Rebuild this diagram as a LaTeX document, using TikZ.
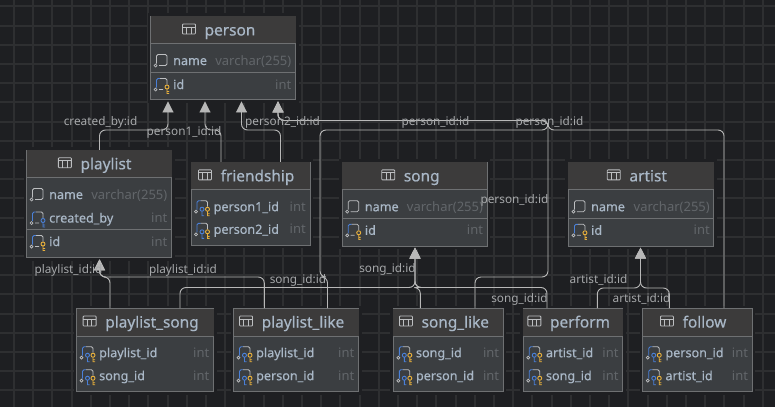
\documentclass[tikz,border=0pt]{standalone}
\usepackage{fontspec}
\setmainfont{Noto Sans}
\newfontfamily\heavyfont[FakeBold=.5]{Noto Sans}
\usetikzlibrary{arrows.meta}
\definecolor{canvascol}{HTML}{1E1F22}
\definecolor{gridcol}{HTML}{2E2F31}
\definecolor{bodycol}{HTML}{3B3E41}
\definecolor{headcol}{HTML}{3C3B3B}
\definecolor{edgecol}{HTML}{6E7072}
\definecolor{linkcol}{HTML}{B8B8B8}
\definecolor{labelcol}{HTML}{A6A8AA}
\definecolor{textcol}{HTML}{A9B7C6}
\definecolor{typecol}{HTML}{62666A}
\definecolor{bluecol}{HTML}{4A80D8}
\definecolor{goldcol}{HTML}{E8B03C}
\definecolor{iconcol}{HTML}{BDBFC1}
\tikzset{
  gridline/.style={gridcol,line width=2pt},
  dbtable/.style={draw=edgecol,fill=bodycol,line width=1pt,minimum height=#1,inner sep=0pt,
    preaction={draw=canvascol,line width=6pt}},
  tablerule/.style={edgecol,line width=1pt},
  tabletitle/.style={inner sep=0pt,text=textcol,text height=14pt,text depth=3pt,font=\heavyfont\fontsize{15.4}{15.4}\selectfont},
  fieldname/.style={inner sep=0pt,anchor=west,text=textcol,text height=12pt,text depth=3pt,font=\heavyfont\fontsize{12.6}{12.6}\selectfont},
  fieldtype/.style={inner sep=0pt,anchor=east,text=typecol,text height=12pt,text depth=3pt,font=\fontsize{13}{13}\selectfont},
  fklink/.style={linkcol,line width=.9pt,rounded corners=6pt,shorten >=1pt,
    -{Triangle[length=11pt,width=11pt,fill=linkcol]}},
  fklabel/.style={inner sep=0pt,text=labelcol,text height=11pt,text depth=3pt,font=\fontsize{11.8}{11.8}\selectfont},
  gridicon/.pic={
    \draw[iconcol,line width=.8pt,rounded corners=.8pt] (0,-5) rectangle (13,5);
    \draw[iconcol,line width=.8pt] (0,-2) -- (13,-2) (4.3,-2) -- (4.3,5) (8.7,-2) -- (8.7,5);
  },
  colicon/.pic={
    \draw[iconcol,line width=.8pt,rounded corners=1.5pt] (2.5,3) -- (2.5,-6) -- (13,-6) -- (13,5) -- (5,5);
    \draw[iconcol,line width=.7pt] (1.5,5) circle (1.5pt);
  },
  pkicon/.pic={
    \draw[bluecol,line width=.9pt,rounded corners=1.5pt] (2.5,3) -- (2.5,-6) -- (6,-6);
    \draw[iconcol,line width=.8pt,rounded corners=1.5pt] (6,-6) -- (13,-6) -- (13,0) (9,5) -- (5,5);
    \draw[iconcol,line width=.7pt] (1.5,5) circle (1.5pt);
    \draw[goldcol,line width=.9pt] (13,2.5) circle (2pt) (13,4.5) -- (13,9) -- (15,9) (13,7) -- (15,7);
  },
  fkicon/.pic={
    \draw[bluecol,line width=.9pt,rounded corners=1.5pt] (2.5,3) -- (2.5,-6) -- (6,-6);
    \draw[iconcol,line width=.8pt,rounded corners=1.5pt] (6,-6) -- (13,-6) -- (13,0) (9,5) -- (5,5);
    \draw[iconcol,line width=.7pt] (1.5,5) circle (1.5pt);
    \draw[bluecol,line width=.9pt] (13,2.5) circle (2pt) (13,4.5) -- (13,9) -- (15,9) (13,7) -- (15,7);
  },
  pkfkicon/.pic={
    \draw[bluecol,line width=.9pt,rounded corners=1.5pt] (2.5,3) -- (2.5,-6) -- (6,-6);
    \draw[iconcol,line width=.8pt,rounded corners=1.5pt] (6,-6) -- (13,-6) -- (13,0);
    \draw[iconcol,line width=.7pt] (1.5,5) circle (1.5pt);
    \draw[bluecol,line width=.9pt] (7.5,2.5) circle (2pt) (7.5,4.5) -- (7.5,9) -- (9.5,9);
    \draw[goldcol,line width=.9pt] (13,2.5) circle (2pt) (13,4.5) -- (13,9) -- (15,9) (13,7) -- (15,7);
  },
}
% id, title, centre x, centre y, width, height
\newcommand{\dbbox}[6]{
  \node[dbtable=#6,minimum width=#5] (#1) at (#3,#4) {};
  \fill[headcol] ([shift={(.5pt,-.5pt)}]#1.north west) rectangle ([shift={(-.5pt,-28pt)}]#1.north east);
  \draw[tablerule] ([yshift=-28pt]#1.north west) -- ([yshift=-28pt]#1.north east);
  \node[tabletitle] (#1-title) at ([xshift=7pt,yshift=-14pt]#1.north) {#2};
  \pic at ([xshift=-22pt,yshift=1pt]#1-title.west) {gridicon};
}
% table, key, row y, icon, text, type
\newcommand{\dbfield}[6]{
  \pic at ([xshift=4pt]#1.west |- 0,#3) {#4};
  \node[fieldname,xshift=23pt] (#1-#2) at (#1.west |- 0,#3) {#5};
  \node[fieldtype,xshift=-4.5pt] (#1-#2-type) at (#1.east |- 0,#3) {#6};
}
\begin{document}
\begin{tikzpicture}[x=1pt,y=-1pt]
\useasboundingbox (0,0) rectangle (775,407);
\fill[canvascol] (0,0) rectangle (775,407);
\foreach \gx in {0,...,39}
  \draw[gridline] ({14+19.2*\gx},0) -- ({14+19.2*\gx},407);
\foreach \gy in {0,...,20}
  \draw[gridline] (0,{6.3+19.2*\gy}) -- (775,{6.3+19.2*\gy});

% tables
\dbbox{person}{person}{223}{58.2}{145pt}{83.5pt}
\dbfield{person}{name}{60.5}{colicon}{name}{varchar(255)}
\dbfield{person}{id}{84.5}{pkicon}{id}{int}
\draw[tablerule] (person.west |- 0,72) -- (person.east |- 0,72);

\dbbox{playlist}{playlist}{99}{204}{145pt}{107.5pt}
\dbfield{playlist}{name}{194.5}{colicon}{name}{varchar(255)}
\dbfield{playlist}{created_by}{218}{fkicon}{created\_by}{int}
\dbfield{playlist}{id}{241.5}{pkicon}{id}{int}
\draw[tablerule] (playlist.west |- 0,229) -- (playlist.east |- 0,229);

\dbbox{friendship}{friendship}{250.5}{203.7}{119pt}{82.7pt}
\dbfield{friendship}{person1_id}{206.7}{pkfkicon}{person1\_id}{int}
\dbfield{friendship}{person2_id}{229.3}{pkfkicon}{person2\_id}{int}

\dbbox{song}{song}{414.7}{204.2}{145pt}{83.7pt}
\dbfield{song}{name}{206.7}{colicon}{name}{varchar(255)}
\dbfield{song}{id}{230.3}{pkicon}{id}{int}
\draw[tablerule] (song.west |- 0,218.3) -- (song.east |- 0,218.3);

\dbbox{artist}{artist}{641.2}{204.2}{145.5pt}{83.7pt}
\dbfield{artist}{name}{206.7}{colicon}{name}{varchar(255)}
\dbfield{artist}{id}{230.3}{pkicon}{id}{int}
\draw[tablerule] (artist.west |- 0,218.3) -- (artist.east |- 0,218.3);

\dbbox{playlist_song}{playlist\_song}{145}{350}{137pt}{83pt}
\dbfield{playlist_song}{playlist_id}{352.7}{pkfkicon}{playlist\_id}{int}
\dbfield{playlist_song}{song_id}{375.7}{pkfkicon}{song\_id}{int}

\dbbox{playlist_like}{playlist\_like}{296}{350}{125pt}{83pt}
\dbfield{playlist_like}{playlist_id}{352.7}{pkfkicon}{playlist\_id}{int}
\dbfield{playlist_like}{person_id}{375.7}{pkfkicon}{person\_id}{int}

\dbbox{song_like}{song\_like}{448.3}{350}{110pt}{83pt}
\dbfield{song_like}{song_id}{352.7}{pkfkicon}{song\_id}{int}
\dbfield{song_like}{person_id}{375.7}{pkfkicon}{person\_id}{int}

\dbbox{perform}{perform}{573}{350}{99.5pt}{83pt}
\dbfield{perform}{artist_id}{352.7}{pkfkicon}{artist\_id}{int}
\dbfield{perform}{song_id}{375.7}{pkfkicon}{song\_id}{int}

\dbbox{follow}{follow}{697.5}{350}{109.5pt}{83pt}
\dbfield{follow}{person_id}{352.7}{pkfkicon}{person\_id}{int}
\dbfield{follow}{artist_id}{375.7}{pkfkicon}{artist\_id}{int}

% links into person
\draw[fklink] ([xshift=.5pt]playlist.north) -- (99.5,130) -| ([xshift=-55pt]person.south);
\draw[fklink] ([xshift=-29.5pt]friendship.north) -- (221,130) -| ([xshift=-18pt]person.south);
\draw[fklink] ([xshift=30pt]friendship.north) -- (280.5,130) -| ([xshift=18.5pt]person.south);
\draw[fklink] ([xshift=31.5pt]playlist_like.north) -- (327.5,277) -- (320,277) -- (320,130) -- (548,130) -- (548,120.5) -| ([xshift=55pt]person.south);
\draw[fklink] ([xshift=26.7pt]song_like.north) -- (475,277) -- (548,277) -- (548,120.5) -| ([xshift=55pt]person.south);
\draw[fklink] ([xshift=26.5pt]follow.north) -- (724,130) -- (548,130) -- (548,120.5) -| ([xshift=55pt]person.south);
% links into playlist
\draw[fklink] ([xshift=-35pt]playlist_song.north) -- (110,277) -| ([xshift=.5pt]playlist.south);
\draw[fklink] ([xshift=-31.7pt]playlist_like.north) -- (264.3,277) -| ([xshift=.5pt]playlist.south);
% links into song
\draw[fklink] ([xshift=35pt]playlist_song.north) -- (180,287.5) -| ([xshift=.3pt]song.south);
\draw[fklink] ([xshift=-28pt]song_like.north) -- (420.3,287.5) -| ([xshift=.3pt]song.south);
\draw[fklink] ([xshift=-26pt]perform.north) -- (547,287.5) -| ([xshift=.3pt]song.south);
% links into artist
\draw[fklink] ([xshift=24.3pt]perform.north) -- (597.3,288) -| ([xshift=-.7pt]artist.south);
\draw[fklink] ([xshift=-28.2pt]follow.north) -- (669.3,288) -| ([xshift=-.7pt]artist.south);

% link labels
\node[fklabel] (lbl-created) at (100.5,121) {created\_by:id};
\node[fklabel] (lbl-person1) at (184,131) {person1\_id:id};
\node[fklabel] (lbl-person2) at (282.5,121) {person2\_id:id};
\node[fklabel] (lbl-person-a) at (435.5,121) {person\_id:id};
\node[fklabel] (lbl-person-b) at (549.5,121) {person\_id:id};
\node[fklabel] (lbl-person-c) at (514.5,199.5) {person\_id:id};
\node[fklabel] (lbl-playlist-a) at (68.5,269) {playlist\_id:id};
\node[fklabel] (lbl-playlist-b) at (183,269) {playlist\_id:id};
\node[fklabel] (lbl-song-a) at (298,279) {song\_id:id};
\node[fklabel] (lbl-song-b) at (387.5,268) {song\_id:id};
\node[fklabel] (lbl-song-c) at (519.5,298) {song\_id:id};
\node[fklabel] (lbl-artist-a) at (598.5,279) {artist\_id:id};
\node[fklabel] (lbl-artist-b) at (641.5,298) {artist\_id:id};
\end{tikzpicture}
\end{document}
